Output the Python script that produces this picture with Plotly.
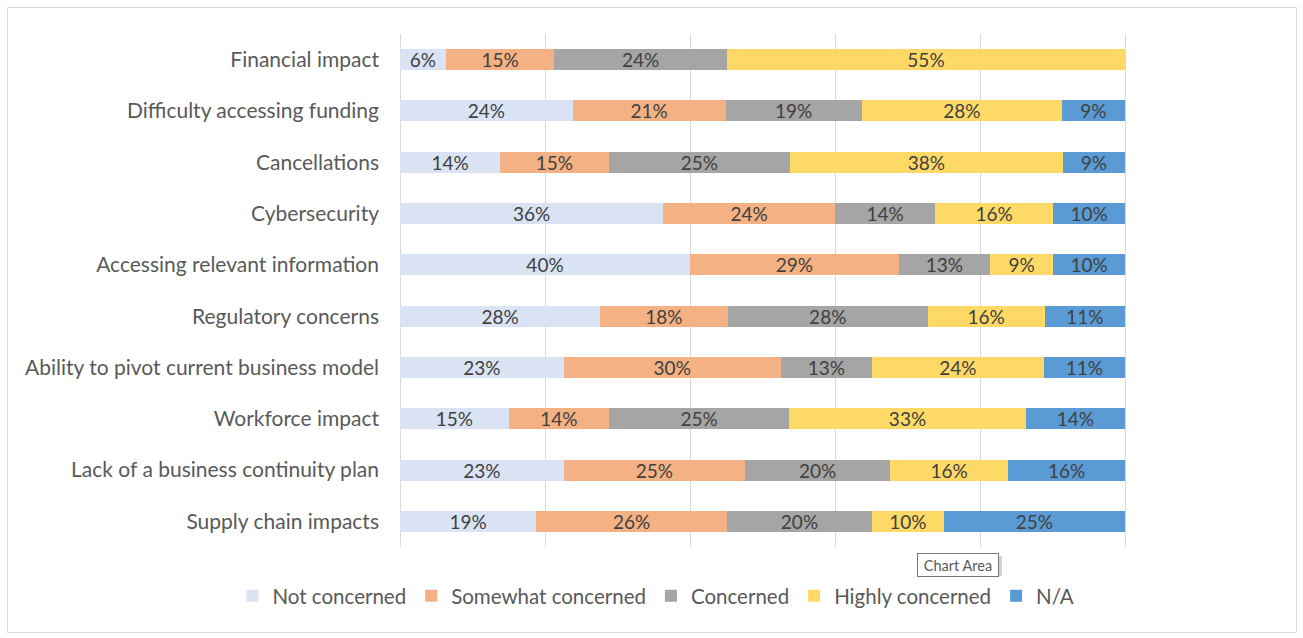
import plotly.graph_objects as go

categories = [
    "Financial impact",
    "Difficulty accessing funding",
    "Cancellations",
    "Cybersecurity",
    "Accessing relevant information",
    "Regulatory concerns",
    "Ability to pivot current business model",
    "Workforce impact",
    "Lack of a business continuity plan",
    "Supply chain impacts",
]
series_names = ["Not concerned", "Somewhat concerned", "Concerned", "Highly concerned", "N/A"]
not_concerned = [6.3, 23.8, 13.8, 36.3, 40.0, 27.6, 22.6, 15.0, 22.6, 18.8]
somewhat_concerned = [15.0, 21.1, 15.0, 23.7, 28.8, 17.6, 29.9, 13.8, 25.0, 26.3]
concerned = [23.8, 18.8, 25.0, 13.8, 12.6, 27.6, 12.6, 24.9, 20.0, 20.0]
highly_concerned = [54.9, 27.6, 37.6, 16.3, 8.7, 16.1, 23.7, 32.6, 16.3, 9.9]
na = [None, 8.7, 8.6, 9.9, 9.9, 11.1, 11.2, 13.7, 16.1, 25.0]
colors = ["#DAE3F3", "#F4B183", "#A5A5A5", "#FFD966", "#5B9BD5"]

W, H = 1303, 638
L, R, T, B = 400, 1270, 34, 547
FONT = "Lato, Open Sans, sans-serif"

def px_x(x):
    return (x - L) / (R - L)

def px_y(y):
    return (B - y) / (B - T)

fig = go.Figure()
for name, vals, col in zip(series_names,
                           [not_concerned, somewhat_concerned, concerned, highly_concerned, na],
                           colors):
    fig.add_trace(go.Bar(
        y=categories, x=vals, name=name, orientation="h",
        marker=dict(color=col, line=dict(width=0)),
        texttemplate="%{x:.0f}%", textposition="inside", insidetextanchor="middle",
        textfont=dict(family=FONT, size=19, color="#404040"),
        constraintext="none", cliponaxis=False,
    ))

fig.update_layout(
    barmode="stack",
    width=W, height=H,
    margin=dict(l=L, r=W - R, t=T, b=H - B, autoexpand=False),
    paper_bgcolor="white", plot_bgcolor="white",
    bargap=0.59,
    font=dict(family=FONT, color="#595959"),
    xaxis=dict(range=[0, 120], dtick=20, showticklabels=False, showgrid=True,
               gridcolor="#D9D9D9", gridwidth=1.3, zeroline=True, zerolinecolor="#D9D9D9",
               zerolinewidth=1.3, showline=False, fixedrange=True),
    yaxis=dict(autorange="reversed", showgrid=False, ticks="", ticklabelstandoff=20,
               tickfont=dict(family=FONT, size=21, color="#595959")),
    legend=dict(orientation="h", x=px_x(656), xanchor="center", y=px_y(596), yanchor="middle",
                font=dict(family=FONT, size=20.5, color="#595959"),
                traceorder="normal", itemwidth=30),
    showlegend=True,
)

fig.add_shape(type="rect", xref="paper", yref="paper",
              x0=px_x(7.5), x1=px_x(1296.5), y0=px_y(632.5), y1=px_y(7.5),
              line=dict(color="#D9D9D9", width=1), fillcolor="rgba(0,0,0,0)", layer="below")

# tooltip shadow
fig.add_shape(type="rect", xref="paper", yref="paper",
              x0=px_x(919), x1=px_x(1002), y0=px_y(580), y1=px_y(556),
              line=dict(width=0), fillcolor="#D4D4D4", layer="above")
fig.add_annotation(xref="paper", yref="paper", x=px_x(957.5), y=px_y(565),
                   xanchor="center", yanchor="middle",
                   text="Chart Area", showarrow=False, width=74, height=16,
                   font=dict(family=FONT, size=14.5, color="#595959"),
                   bgcolor="white", bordercolor="#767676", borderwidth=1, borderpad=3)

fig.write_html("out.html", config={"displayModeBar": False},
               post_script="document.body.style.margin='0';document.body.style.overflow='hidden';")
